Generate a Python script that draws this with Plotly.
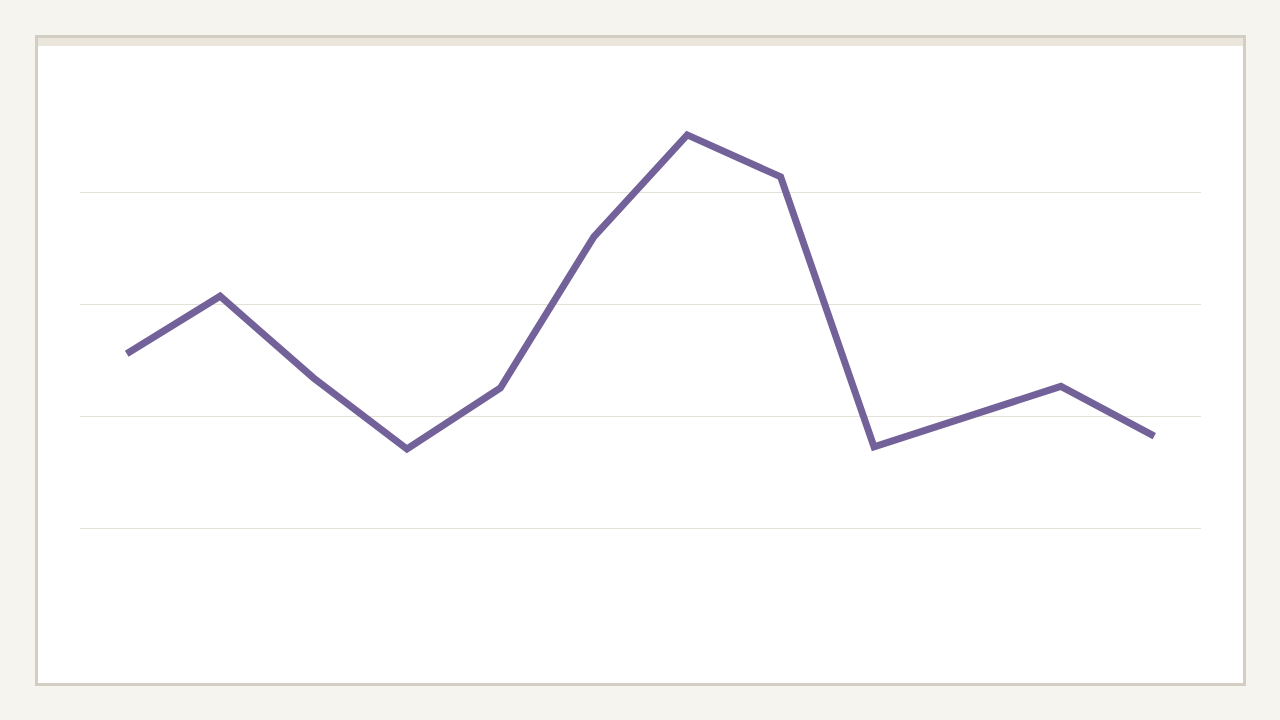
import plotly.graph_objects as go

# series (y axis runs 0..100, gridlines every 20)
points = list(range(12))
values = [51.1, 61.4, 46.8, 34.1, 45.0, 72.0, 90.2, 82.7, 34.5, 39.8, 45.3, 36.4]
grid_ticks = [20, 40, 60, 80]

W, H = 1280, 720
ML, MR, MT, MB = 80, 79, 80, 80
PW, PH = W - ML - MR, H - MT - MB


def px_x(p):
    # pixel -> paper x
    return (p - ML) / PW


def px_y(p):
    # pixel -> paper y
    return (H - MB - p) / PH


fig = go.Figure()
fig.add_trace(go.Scatter(x=points, y=values, mode='lines',
                         line=dict(color='#73619a', width=7),
                         hoverinfo='skip', showlegend=False))

# card with border and a thin header band
fig.add_shape(type='rect', xref='paper', yref='paper', layer='below',
              x0=px_x(36.5), x1=px_x(1244.5), y0=px_y(684.5), y1=px_y(36.5),
              fillcolor='white', line=dict(color='#d3cec3', width=3))
fig.add_shape(type='rect', xref='paper', yref='paper', layer='below',
              x0=px_x(38), x1=px_x(1243), y0=px_y(46), y1=px_y(38),
              fillcolor='#ebe6dc', line=dict(width=0))

fig.update_xaxes(range=[-0.5, 11.5], showgrid=False, zeroline=False,
                 showticklabels=False, showline=False)
fig.update_yaxes(range=[0, 100], tickvals=grid_ticks, showgrid=True,
                 gridcolor='#e4e2d6', gridwidth=1, zeroline=False,
                 showticklabels=False, showline=False)

fig.update_layout(width=W, height=H,
                  margin=dict(l=ML, r=MR, t=MT, b=MB),
                  paper_bgcolor='#f5f4ef', plot_bgcolor='rgba(0,0,0,0)')

# drop the browser's default body margin so the figure sits at 0,0
fig.write_html("out.html", config={'displayModeBar': False},
               post_script="document.body.style.margin='0';"
                           "document.body.style.background='#f5f4ef';")
